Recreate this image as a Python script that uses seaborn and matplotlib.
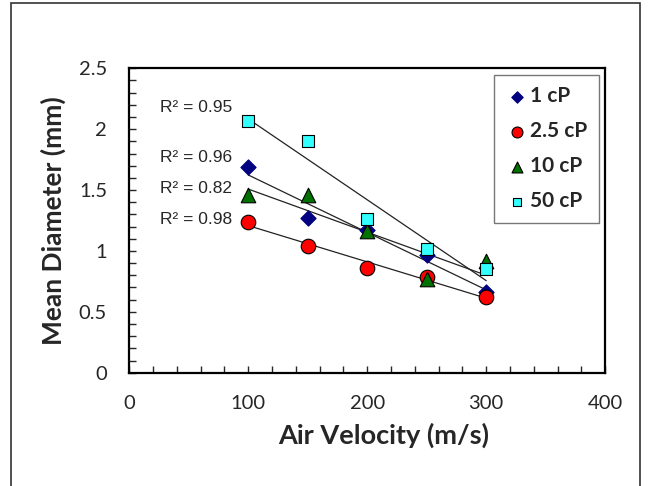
import pandas as pd
import matplotlib.pyplot as plt
import seaborn as sns
from matplotlib.patches import Rectangle
from matplotlib.ticker import MultipleLocator

# Data
air_velocity = [100, 150, 200, 250, 300]
d_1cp = [1.69, 1.27, 1.17, 0.97, 0.66]
d_2_5cp = [1.24, 1.04, 0.86, 0.79, 0.62]
d_10cp = [1.46, 1.46, 1.16, 0.77, 0.92]
d_50cp = [2.07, 1.90, 1.26, 1.02, 0.85]
labels = ['1 cP', '2.5 cP', '10 cP', '50 cP']
r2_text = ['R² = 0.96', 'R² = 0.98', 'R² = 0.82', 'R² = 0.95']
r2_y = [1.77, 1.26, 1.51, 2.18]

sns.set_style('white')
plt.rcParams['font.family'] = ['Lato', 'DejaVu Sans']

fig = plt.figure(figsize=(6.48, 4.86), dpi=100)
ax = fig.add_axes([0.1995, 0.2331, 0.7345, 0.6264])

series = [d_1cp, d_2_5cp, d_10cp, d_50cp]
markers = ['D', 'o', '^', 's']
colors = ['#000080', '#FF0000', '#007000', '#33FFFF']
edges = ['#000080', 'black', 'black', 'black']
sizes = [60, 110, 110, 70]

# trendlines first so markers sit on top
for vals in series:
    df = pd.DataFrame({'x': air_velocity, 'y': vals})
    sns.regplot(data=df, x='x', y='y', ax=ax, scatter=False, ci=None,
                line_kws={'color': '#222222', 'lw': 0.9})

for vals, lab, m, c, e, s in zip(series, labels, markers, colors, edges, sizes):
    df = pd.DataFrame({'x': air_velocity, 'y': vals})
    sns.scatterplot(data=df, x='x', y='y', ax=ax, marker=m, color=c,
                    edgecolor=e, linewidth=0.8, s=s, label=lab, zorder=3)

for t, y in zip(r2_text, r2_y):
    ax.text(26, y, t, fontsize=12.5, family='Liberation Sans', va='center', ha='left')

ax.set_xlim(0, 400)
ax.set_ylim(0, 2.5)
ax.xaxis.set_major_locator(MultipleLocator(100))
ax.xaxis.set_minor_locator(MultipleLocator(20))
ax.yaxis.set_major_locator(MultipleLocator(0.5))
ax.yaxis.set_minor_locator(MultipleLocator(0.1))
ax.set_yticks([0, 0.5, 1, 1.5, 2, 2.5])
ax.set_yticklabels(['0', '0.5', '1', '1.5', '2', '2.5'])
ax.tick_params(which='major', direction='in', length=5, width=1, labelsize=14.5,
               left=True, bottom=True)
ax.tick_params(axis='x', which='major', pad=16)
ax.tick_params(axis='y', which='major', pad=16)
ax.tick_params(which='minor', direction='in', length=5, width=1, left=True, bottom=True)

for sp in ax.spines.values():
    sp.set_color('black')
    sp.set_linewidth(1.6)

ax.set_xlabel('Air Velocity (m/s)', fontsize=19.5, fontweight='bold')
ax.xaxis.set_label_coords(0.535, -0.165)
ax.set_ylabel('Mean Diameter (mm)', fontsize=19, fontweight='bold', labelpad=9)

leg = ax.legend(loc='upper right', bbox_to_anchor=(0.987, 0.978), frameon=True,
                fancybox=False, edgecolor='#555555',
                prop={'weight': 'bold', 'size': 15}, labelspacing=0.72,
                handletextpad=0.1, handlelength=1.1, borderpad=0.55,
                markerscale=0.75, borderaxespad=0)
leg.get_frame().set_linewidth(1.0)

# outer chart frame
fig.patches.append(Rectangle((11 / 648, -0.05), 629 / 648, 1.05 - 3 / 486,
                             transform=fig.transFigure, fill=False,
                             edgecolor='#333333', linewidth=1.2))

fig.savefig('out.png', dpi=100)
